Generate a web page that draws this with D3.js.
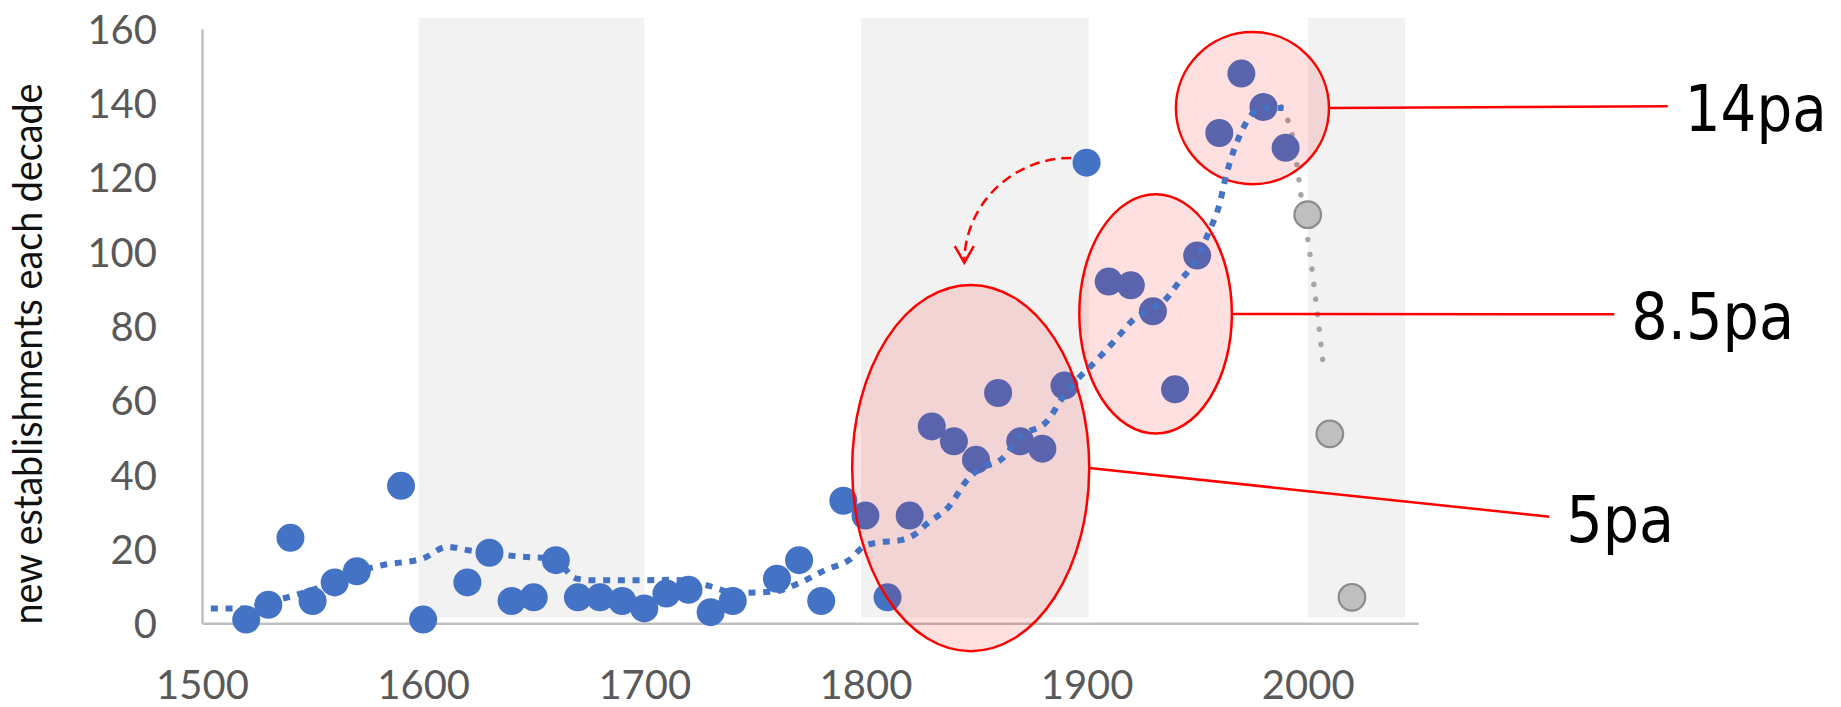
<!DOCTYPE html>
<html>
<head>
<meta charset="utf-8">
<script src="https://cdn.jsdelivr.net/npm/d3@7"></script>
<style>
  html, body { margin: 0; padding: 0; background: #ffffff; }
  svg { display: block; }
</style>
</head>
<body>
<svg id="chart" width="1841" height="707"></svg>
<script>
// ---------- data ----------
const years = [1520,1530,1540,1550,1560,1570,1590,1600,1620,1630,1640,1650,1660,1670,1680,1690,1700,1710,1720,1730,1740,1760,1770,1780,1790,1800,1810,1820,1830,1840,1850,1860,1870,1880,1890,1900,1910,1920,1930,1940,1950,1960,1970,1980,1990];
const counts = [1,5,23,6,11,14,37,1,11,19,6,7,17,7,7,6,4,8,9,3,6,12,17,6,33,29,7,29,53,49,44,62,49,47,64,124,92,91,84,63,99,132,148,139,128];

const recentYears = [2000, 2010, 2020];
const recentCounts = [110, 51, 7];

const trendYears  = [1504,1519,1531,1550,1570,1582,1600,1611,1620,1630,1645,1659,1669,1676,1700,1712,1725,1733,1740,1758,1770,1782,1793,1799,1805,1816,1822,1828,1838,1846,1851,1862,1870,1882,1889,1895,1904,1913,1922,1929,1934,1942,1950,1955,1960,1963,1965,1969,1972,1976,1982,1989];
const trendValues = [4,4,5.8,9,13.9,15.7,17.5,20.6,19.7,18.9,17.9,17.4,12.1,11.6,11.6,11.7,10.8,9.4,8.2,8.5,10.8,14.4,17.2,20.6,21.7,22.4,23.8,26.9,31.6,38.6,41.3,44.4,50.3,54.3,60.6,65.1,70.5,76.3,82.2,84.6,86.2,92,98.3,105,112.6,120.3,124.5,131,134.6,137.7,138.7,138.7];

const recentTrendYears  = [1988,1990.5,1992.7,1995,1996.8,2001,2002.8,2004.5,2006.8];
const recentTrendValues = [139,136.2,132.1,123.9,115.8,99.4,91.1,82.8,70.6];

const bandStarts = [1598, 1798, 2000];
const bandEnds   = [1700, 1901, 2044];
const bandLow = 1.5, bandHigh = 163;

const yTicks = [0,20,40,60,80,100,120,140,160];
const xTicks = [1500,1600,1700,1800,1900,2000];
const yTitle = "new establishments each decade";

// annotation groups (centre year, centre value, half-width in years, half-height in values)
const groupCentreYears  = [1847.6, 1931.2, 1975.0];
const groupCentreValues = [41.8, 83.3, 138.7];
const groupHalfYears    = [53.6, 34.5, 34.6];
const groupHalfValues   = [49.3, 32.2, 20.5];
const groupLabels       = ["5pa", "8.5pa", "14pa"];
const labelAnchorYears  = [2109.2, 2138.6, 2162.8];
const labelAnchorValues = [28.7, 83.2, 139.2];
const labelLengths      = [108, 163, 142];

// moved-point arrow (from, to) in data units
const arrowFromYear = 1893, arrowFromValue = 125.3;
const arrowToYear = 1844.7, arrowToValue = 97.1;

// ---------- chart ----------
const svg = d3.select("#chart");
const x = d3.scaleLinear().domain([1500, 2050]).range([202, 1418.3]);
const y = d3.scaleLinear().domain([0, 160]).range([623.3, 29]);

const tickFont = "Lato, 'Open Sans', sans-serif";
const grey = "#595959";

// bands
svg.append("g").selectAll("rect")
  .data(bandStarts.map((s, i) => [s, bandEnds[i]]))
  .join("rect")
  .attr("x", d => x(d[0]))
  .attr("width", d => x(d[1]) - x(d[0]))
  .attr("y", y(bandHigh))
  .attr("height", y(bandLow) - y(bandHigh))
  .attr("fill", "#f2f2f2");

// axes
const yAxis = svg.append("g")
  .attr("transform", `translate(${x(1500)},0)`)
  .call(d3.axisLeft(y).tickValues(yTicks).tickSize(0).tickPadding(45));
yAxis.select(".domain").attr("stroke", "#bfbfbf").attr("stroke-width", 2.5);
yAxis.selectAll("text")
  .attr("dy", "0.36em")
  .attr("fill", grey)
  .style("font-family", tickFont)
  .style("font-size", "40px");

const xAxis = svg.append("g")
  .attr("transform", `translate(0,${y(0)})`)
  .call(d3.axisBottom(x).tickValues(xTicks).tickFormat(d3.format("d")).tickSize(0).tickPadding(47));
xAxis.select(".domain").attr("stroke", "#bfbfbf").attr("stroke-width", 2.5);
xAxis.selectAll("text")
  .attr("fill", grey)
  .style("font-family", tickFont)
  .style("font-size", "40px");

// y title
svg.append("text")
  .attr("transform", `translate(41.7,${(83 + 625) / 2}) rotate(-90)`)
  .attr("text-anchor", "middle")
  .attr("textLength", 541)
  .attr("lengthAdjust", "spacingAndGlyphs")
  .style("font-family", tickFont)
  .style("font-size", "41px")
  .attr("fill", "#111")
  .text(yTitle);

// grey (recent) trend - dotted round
const line = d3.line().x(d => x(d[0])).y(d => y(d[1])).curve(d3.curveMonotoneX);
svg.append("path")
  .datum(recentTrendYears.map((v, i) => [v, recentTrendValues[i]]))
  .attr("d", line)
  .attr("fill", "none")
  .attr("stroke", "#a6a6a6")
  .attr("stroke-width", 5.5)
  .attr("stroke-linecap", "round")
  .attr("stroke-dasharray", "0.1 15");

// main points
svg.append("g").selectAll("circle")
  .data(years.map((v, i) => [v, counts[i]]))
  .join("circle")
  .attr("cx", d => x(d[0]))
  .attr("cy", d => y(d[1]))
  .attr("r", 14)
  .attr("fill", "#4472c4");

// recent points
svg.append("g").selectAll("circle")
  .data(recentYears.map((v, i) => [v, recentCounts[i]]))
  .join("circle")
  .attr("cx", d => x(d[0]))
  .attr("cy", d => y(d[1]))
  .attr("r", 13.3)
  .attr("fill", "#bfbfbf")
  .attr("stroke", "#8c8c8c")
  .attr("stroke-width", 2.2);

// ellipses
const groups = groupCentreYears.map((cy, i) => ({
  cx: x(cy), cy: y(groupCentreValues[i]),
  rx: x(cy + groupHalfYears[i]) - x(cy),
  ry: y(0) - y(groupHalfValues[i]),
  lx: x(labelAnchorYears[i]), ly: y(labelAnchorValues[i]),
  label: groupLabels[i], len: labelLengths[i]
}));
svg.append("g").selectAll("ellipse")
  .data(groups)
  .join("ellipse")
  .attr("cx", d => d.cx).attr("cy", d => d.cy)
  .attr("rx", d => d.rx).attr("ry", d => d.ry)
  .attr("fill", "rgba(255,0,0,0.12)")
  .attr("stroke", "#ff0000")
  .attr("stroke-width", 2.5);

// blue trend - square dots
svg.append("path")
  .datum(trendYears.map((v, i) => [v, trendValues[i]]))
  .attr("d", line)
  .attr("fill", "none")
  .attr("stroke", "#4472c4")
  .attr("stroke-width", 6)
  .attr("stroke-dasharray", "7 7.7");

// connectors + labels
svg.append("g").selectAll("line")
  .data(groups)
  .join("line")
  .attr("x1", d => d.cx + d.rx).attr("y1", d => d.cy)
  .attr("x2", d => d.lx).attr("y2", d => d.ly)
  .attr("stroke", "#ff0000")
  .attr("stroke-width", 2.5);

svg.append("g").selectAll("text")
  .data(groups)
  .join("text")
  .style("font-family", "'DejaVu Sans', Verdana, sans-serif")
  .style("font-size", "64px")
  .attr("fill", "#000")
  .text(d => d.label)
  .each(function(d) {
    const natural = this.getComputedTextLength() || d.len;
    const sx = d.len / natural;
    d3.select(this).attr("transform",
      `translate(${d.lx + 17},${d.ly + 25.2}) scale(${sx},1)`);
  });

// dashed curved arrow
const ax0 = x(arrowFromYear), ay0 = y(arrowFromValue);
const ax1 = x(arrowToYear), ay1 = y(arrowToValue);
const arx = Math.abs(ax0 - ax1), ary = Math.abs(ay1 - ay0);
svg.append("path")
  .attr("d", `M${ax0},${ay0} A${arx},${ary} 0 0 0 ${ax1},${ay1}`)
  .attr("fill", "none")
  .attr("stroke", "#ff0000")
  .attr("stroke-width", 2.5)
  .attr("stroke-dasharray", "10 6");
svg.append("path")
  .attr("d", `M${ax1 - 9.5},${ay1 - 16.5} L${ax1},${ay1} L${ax1 + 9.5},${ay1 - 16.5}`)
  .attr("fill", "none")
  .attr("stroke", "#ff0000")
  .attr("stroke-width", 2.5);
</script>
</body>
</html>
